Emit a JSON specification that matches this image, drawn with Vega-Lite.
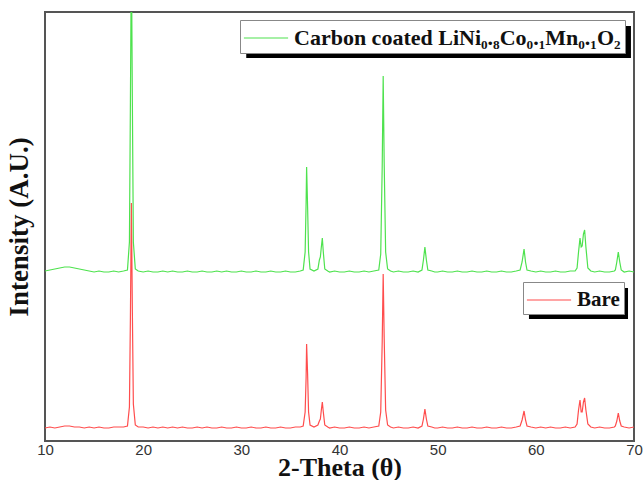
{
  "$schema": "https://vega.github.io/schema/vega-lite/v6.json",
  "width": 589,
  "height": 429,
  "autosize": {"type": "none"},
  "padding": {"left": 45, "top": 12, "right": 10, "bottom": 39},
  "background": "white",
  "config": {
    "view": {"stroke": "#555555", "strokeWidth": 2},
    "axis": {"grid": false}
  },
  "datasets": {
    "red": [
      {"x":10,"y":4},{"x":10.5,"y":5},{"x":11,"y":4},{"x":11.5,"y":5},{"x":12,"y":6},{"x":12.5,"y":6},{"x":13,"y":5},{"x":13.5,"y":5},{"x":14,"y":4},{"x":14.5,"y":5},{"x":15,"y":4},{"x":15.5,"y":5},{"x":16,"y":4},{"x":16.5,"y":4},{"x":17,"y":5},{"x":17.5,"y":5},{"x":18,"y":5},{"x":18.4,"y":6},{"x":18.6,"y":25},{"x":18.7,"y":115},{"x":18.8,"y":229},{"x":18.9,"y":120},{"x":19.0,"y":28},{"x":19.2,"y":7},{"x":19.5,"y":5},{"x":20,"y":5},{"x":20.5,"y":4},{"x":21,"y":5},{"x":21.5,"y":4},{"x":22,"y":5},{"x":22.5,"y":4},{"x":23,"y":5},{"x":23.5,"y":4},{"x":24,"y":5},{"x":24.5,"y":4},{"x":25,"y":4},{"x":25.5,"y":5},{"x":26,"y":4},{"x":26.5,"y":5},{"x":27,"y":4},{"x":27.5,"y":4},{"x":28,"y":5},{"x":28.5,"y":4},{"x":29,"y":4},{"x":29.5,"y":5},{"x":30,"y":4},{"x":30.5,"y":4},{"x":31,"y":5},{"x":31.5,"y":4},{"x":32,"y":4},{"x":32.5,"y":5},{"x":33,"y":4},{"x":33.5,"y":4},{"x":34,"y":5},{"x":34.5,"y":4},{"x":35,"y":4},{"x":35.5,"y":5},{"x":36,"y":5},{"x":36.3,"y":6},{"x":36.5,"y":20},{"x":36.6,"y":55},{"x":36.65,"y":88},{"x":36.75,"y":58},{"x":36.85,"y":20},{"x":37.0,"y":7},{"x":37.4,"y":5},{"x":37.8,"y":7},{"x":37.95,"y":11},{"x":38.05,"y":13},{"x":38.15,"y":22},{"x":38.25,"y":30},{"x":38.35,"y":20},{"x":38.5,"y":7},{"x":38.8,"y":5},{"x":39,"y":4},{"x":39.5,"y":5},{"x":40,"y":4},{"x":40.5,"y":4},{"x":41,"y":5},{"x":41.5,"y":4},{"x":42,"y":4},{"x":42.5,"y":5},{"x":43,"y":4},{"x":43.5,"y":5},{"x":44,"y":6},{"x":44.2,"y":20},{"x":44.35,"y":90},{"x":44.45,"y":158},{"x":44.55,"y":95},{"x":44.7,"y":22},{"x":44.9,"y":7},{"x":45.2,"y":5},{"x":45.5,"y":4},{"x":46,"y":5},{"x":46.5,"y":4},{"x":47,"y":4},{"x":47.5,"y":5},{"x":48,"y":4},{"x":48.4,"y":6},{"x":48.55,"y":13},{"x":48.7,"y":23},{"x":48.85,"y":13},{"x":49,"y":6},{"x":49.4,"y":5},{"x":49.7,"y":4},{"x":50,"y":4},{"x":50.5,"y":5},{"x":51,"y":4},{"x":51.5,"y":4},{"x":52,"y":5},{"x":52.5,"y":4},{"x":53,"y":4},{"x":53.5,"y":5},{"x":54,"y":4},{"x":54.5,"y":4},{"x":55,"y":5},{"x":55.5,"y":4},{"x":56,"y":4},{"x":56.5,"y":5},{"x":57,"y":4},{"x":57.5,"y":4},{"x":58,"y":5},{"x":58.4,"y":6},{"x":58.6,"y":12},{"x":58.8,"y":21},{"x":58.95,"y":12},{"x":59.1,"y":6},{"x":59.5,"y":5},{"x":60,"y":4},{"x":60.5,"y":5},{"x":61,"y":4},{"x":61.5,"y":5},{"x":62,"y":4},{"x":62.5,"y":4},{"x":63,"y":5},{"x":63.5,"y":4},{"x":64,"y":5},{"x":64.2,"y":8},{"x":64.35,"y":22},{"x":64.5,"y":32},{"x":64.62,"y":20},{"x":64.72,"y":20},{"x":64.85,"y":30},{"x":64.97,"y":34},{"x":65.1,"y":22},{"x":65.3,"y":8},{"x":65.6,"y":5},{"x":66,"y":4},{"x":66.5,"y":5},{"x":67,"y":4},{"x":67.5,"y":4},{"x":68,"y":5},{"x":68.1,"y":6},{"x":68.25,"y":11},{"x":68.4,"y":19},{"x":68.55,"y":11},{"x":68.7,"y":6},{"x":69,"y":5},{"x":69.5,"y":4},{"x":70,"y":5}
    ],
    "green": [
      {"x":10,"y":161},{"x":10.5,"y":162},{"x":11,"y":163},{"x":11.5,"y":164},{"x":12,"y":165},{"x":12.5,"y":165},{"x":13,"y":164},{"x":13.5,"y":163},{"x":14,"y":162},{"x":14.5,"y":161},{"x":15,"y":160},{"x":15.5,"y":161},{"x":16,"y":160},{"x":16.5,"y":160},{"x":17,"y":161},{"x":17.5,"y":160},{"x":18,"y":161},{"x":18.4,"y":162},{"x":18.6,"y":190},{"x":18.7,"y":330},{"x":18.8,"y":480},{"x":18.9,"y":330},{"x":19.0,"y":190},{"x":19.2,"y":163},{"x":19.5,"y":161},{"x":20,"y":160},{"x":20.5,"y":161},{"x":21,"y":160},{"x":21.5,"y":160},{"x":22,"y":161},{"x":22.5,"y":160},{"x":23,"y":161},{"x":23.5,"y":160},{"x":24,"y":160},{"x":24.5,"y":161},{"x":25,"y":160},{"x":25.5,"y":160},{"x":26,"y":161},{"x":26.5,"y":160},{"x":27,"y":160},{"x":27.5,"y":161},{"x":28,"y":160},{"x":28.5,"y":161},{"x":29,"y":160},{"x":29.5,"y":160},{"x":30,"y":161},{"x":30.5,"y":160},{"x":31,"y":160},{"x":31.5,"y":161},{"x":32,"y":160},{"x":32.5,"y":160},{"x":33,"y":161},{"x":33.5,"y":160},{"x":34,"y":160},{"x":34.5,"y":161},{"x":35,"y":160},{"x":35.5,"y":160},{"x":36,"y":161},{"x":36.3,"y":162},{"x":36.5,"y":180},{"x":36.6,"y":230},{"x":36.65,"y":265},{"x":36.75,"y":225},{"x":36.85,"y":180},{"x":37.0,"y":163},{"x":37.4,"y":161},{"x":37.8,"y":163},{"x":37.95,"y":172},{"x":38.05,"y":175},{"x":38.15,"y":185},{"x":38.25,"y":194},{"x":38.35,"y":180},{"x":38.5,"y":163},{"x":38.8,"y":161},{"x":39,"y":160},{"x":39.5,"y":161},{"x":40,"y":160},{"x":40.5,"y":160},{"x":41,"y":161},{"x":41.5,"y":160},{"x":42,"y":160},{"x":42.5,"y":161},{"x":43,"y":160},{"x":43.5,"y":161},{"x":44,"y":162},{"x":44.2,"y":178},{"x":44.35,"y":265},{"x":44.45,"y":356},{"x":44.55,"y":270},{"x":44.7,"y":180},{"x":44.9,"y":163},{"x":45.2,"y":161},{"x":45.5,"y":160},{"x":46,"y":161},{"x":46.5,"y":160},{"x":47,"y":160},{"x":47.5,"y":161},{"x":48,"y":160},{"x":48.4,"y":162},{"x":48.55,"y":172},{"x":48.7,"y":185},{"x":48.85,"y":172},{"x":49,"y":162},{"x":49.4,"y":161},{"x":49.7,"y":160},{"x":50,"y":160},{"x":50.5,"y":161},{"x":51,"y":160},{"x":51.5,"y":160},{"x":52,"y":161},{"x":52.5,"y":160},{"x":53,"y":160},{"x":53.5,"y":161},{"x":54,"y":160},{"x":54.5,"y":160},{"x":55,"y":161},{"x":55.5,"y":160},{"x":56,"y":160},{"x":56.5,"y":161},{"x":57,"y":160},{"x":57.5,"y":160},{"x":58,"y":161},{"x":58.4,"y":162},{"x":58.6,"y":170},{"x":58.8,"y":183},{"x":58.95,"y":170},{"x":59.1,"y":162},{"x":59.5,"y":161},{"x":60,"y":160},{"x":60.5,"y":161},{"x":61,"y":160},{"x":61.5,"y":160},{"x":62,"y":161},{"x":62.5,"y":160},{"x":63,"y":160},{"x":63.5,"y":161},{"x":64,"y":161},{"x":64.2,"y":164},{"x":64.35,"y":180},{"x":64.5,"y":194},{"x":64.62,"y":185},{"x":64.72,"y":186},{"x":64.85,"y":198},{"x":64.97,"y":202},{"x":65.1,"y":185},{"x":65.3,"y":164},{"x":65.6,"y":161},{"x":66,"y":160},{"x":66.5,"y":161},{"x":67,"y":160},{"x":67.5,"y":160},{"x":68,"y":161},{"x":68.1,"y":162},{"x":68.25,"y":170},{"x":68.4,"y":180},{"x":68.55,"y":170},{"x":68.7,"y":162},{"x":69,"y":160},{"x":69.5,"y":161},{"x":70,"y":160}
    ],
    "shadows": [
      {"x1":30.5,"x2":69.69,"y1":406,"y2":374},
      {"x1":59.3,"x2":69.39,"y1":144,"y2":113}
    ]
  },
  "encoding": {
    "x": {
      "type": "quantitative",
      "scale": {"domain": [10, 70], "nice": false, "zero": false, "padding": 0},
      "axis": {
        "title": "2-Theta (θ)", "values": [10, 20, 30, 40, 50, 60, 70], "labelFlush": false,
        "labelFont": "Liberation Sans", "labelFontSize": 15, "labelColor": "#333333",
        "titleFont": "Liberation Serif", "titleFontSize": 26, "titleFontWeight": "bold", "titleColor": "#111111",
        "ticks": false, "domain": false, "labelPadding": 1,
        "titleY": 34, "titleBaseline": "alphabetic"
      }
    },
    "y": {
      "type": "quantitative",
      "scale": {"domain": [-9, 420], "nice": false, "zero": false, "padding": 0},
      "axis": {
        "title": "Intensity (A.U.)", "labels": false, "ticks": false, "domain": false,
        "titleFont": "Liberation Serif", "titleFontSize": 27, "titleFontWeight": "bold", "titleColor": "#111111", "titlePadding": 12
      }
    }
  },
  "layer": [
    {
      "data": {"name": "shadows"},
      "mark": {"type": "rect", "fill": "black"},
      "encoding": {
        "x": {"field": "x1", "type": "quantitative"},
        "x2": {"field": "x2"},
        "y": {"field": "y1", "type": "quantitative"},
        "y2": {"field": "y2"}
      }
    },
    {
      "data": {"name": "red"},
      "mark": {"type": "line", "strokeWidth": 1.2, "clip": true},
      "encoding": {
        "x": {"field": "x", "type": "quantitative"},
        "y": {"field": "y", "type": "quantitative"},
        "stroke": {
          "datum": "Bare", "type": "nominal",
          "scale": {"domain": ["Bare"], "range": ["#ff4d4d"]},
          "legend": {
            "orient": "none", "legendX": 478, "legendY": 270, "title": null,
            "fillColor": "white", "strokeColor": "#888888", "padding": 4,
            "symbolType": "M-1.7,0H1.7", "symbolSize": 676, "symbolStrokeWidth": 1.2, "symbolOffset": 8,
            "labelFont": "Liberation Serif", "labelFontWeight": "bold", "labelFontSize": 21, "labelColor": "#111111", "labelLimit": 1000, "labelOffset": 14
          }
        }
      }
    },
    {
      "data": {"name": "green"},
      "mark": {"type": "line", "strokeWidth": 1.2, "clip": true},
      "encoding": {
        "x": {"field": "x", "type": "quantitative"},
        "y": {"field": "y", "type": "quantitative"},
        "color": {
          "datum": "Carbon coated LiNi₀.₈Co₀.₁Mn₀.₁O₂", "type": "nominal",
          "scale": {"domain": ["Carbon coated LiNi₀.₈Co₀.₁Mn₀.₁O₂"], "range": ["#4ee24e"]},
          "legend": {
            "orient": "none", "legendX": 195, "legendY": 8, "title": null,
            "fillColor": "white", "strokeColor": "#888888", "padding": 4,
            "symbolType": "M-1.7,0H1.7", "symbolSize": 676, "symbolStrokeWidth": 1.2, "symbolOffset": 8,
            "labelFont": "Liberation Serif", "labelFontWeight": "bold", "labelFontSize": 22, "labelColor": "#111111", "labelLimit": 1000, "labelOffset": 14
          }
        }
      }
    }
  ],
  "resolve": {"scale": {"color": "independent", "stroke": "independent"}}
}
